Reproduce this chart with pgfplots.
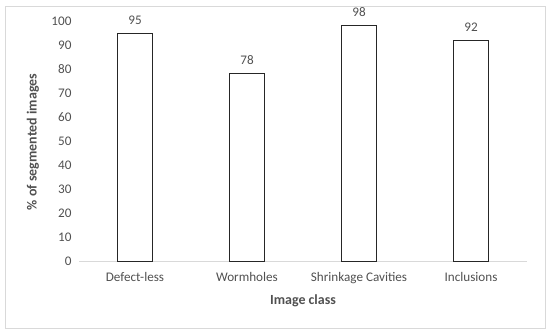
\documentclass[border=0pt]{standalone}
\usepackage{pgfplots}
\pgfplotsset{compat=1.18}
\usepackage{fontspec}
\setmainfont{Carlito}
\definecolor{txt}{HTML}{505050}
\definecolor{grid}{HTML}{D9D9D9}
\begin{document}
\begin{tikzpicture}[x=1bp,y=1bp]
\useasboundingbox (0,0) rectangle (550,334);
\draw[grid, line width=0.75bp] (5,6) rectangle (545,328);
\begin{axis}[
  at={(79bp,73bp)}, anchor=south west,
  scale only axis, width=448bp, height=240bp,
  xmin=-0.5, xmax=3.5, ymin=0, ymax=100,
  axis x line*=bottom, axis y line*=left,
  x axis line style={draw=grid, line width=0.75bp},
  y axis line style={draw=none},
  xtick={0,1,2,3},
  xticklabels={Defect-less,Wormholes,Shrinkage Cavities,Inclusions},
  x tick style={draw=none},
  extra x ticks={-0.5,0.5,1.5,2.5,3.5},
  extra x tick labels={},
  extra x tick style={tick style={draw=grid, line width=0.75bp}, tick align=outside, major tick length=5bp},
  ytick={0,10,...,100},
  y tick style={draw=none},
  /pgf/number format/assume math mode=true,
  tick label style={font=\fontsize{13.2}{15}\selectfont, text=txt},
  yticklabel style={xshift=-4bp},
  xticklabel style={yshift=-4bp},
  ylabel={\% of segmented images},
  xlabel={Image class},
  label style={font=\fontsize{14}{16}\selectfont\bfseries, text=txt},
  ylabel style={at={(-46bp,119bp)}, anchor=center},
  xlabel style={at={(224bp,-40bp)}, anchor=center},
  ybar, bar width=35bp,
  nodes near coords,
  nodes near coords style={font=\fontsize{13.2}{15}\selectfont, text=txt, yshift=5bp},
  every node near coord/.append style={/pgf/number format/assume math mode=true},
]
\addplot[draw=black!85, fill=white, line width=0.9bp] coordinates {(0,95) (1,78) (2,98) (3,92)};
\end{axis}
\end{tikzpicture}
\end{document}
